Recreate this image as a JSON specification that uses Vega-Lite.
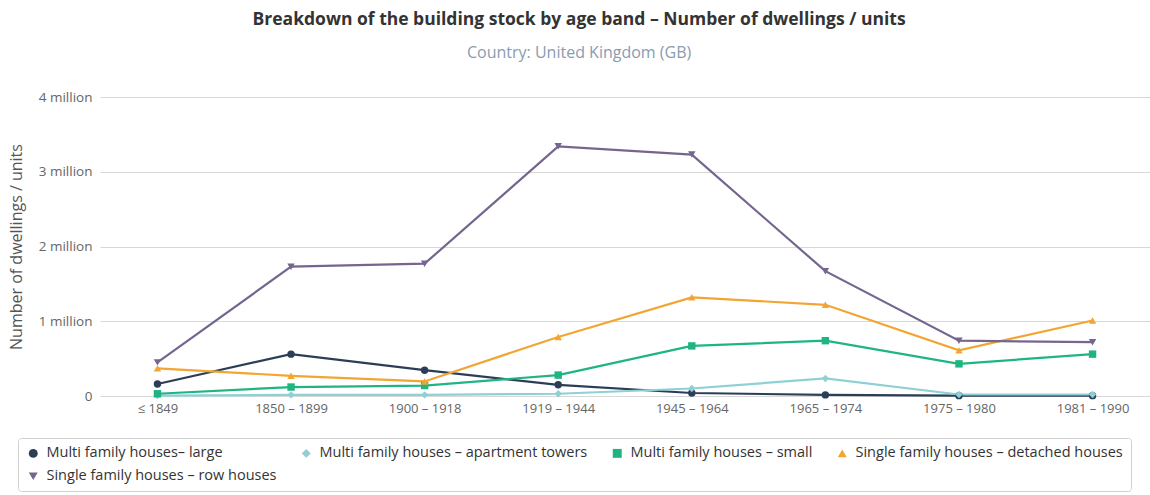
{
  "$schema": "https://vega.github.io/schema/vega-lite/v6.json",
  "width": 1050,
  "height": 299,
  "autosize": {"type": "none"},
  "padding": {"left": 100, "top": 97, "right": 0, "bottom": 99},
  "background": "white",
  "title": {
    "text": "Breakdown of the building stock by age band – Number of dwellings / units",
    "subtitle": "Country: United Kingdom (GB)",
    "anchor": "middle",
    "frame": "bounds",
    "dx": 0,
    "offset": 29,
    "font": "Open Sans",
    "fontSize": 17.5,
    "fontWeight": "bold",
    "color": "#333333",
    "subtitleFont": "Open Sans",
    "subtitleFontSize": 16,
    "subtitleColor": "#8a9bb0",
    "subtitlePadding": 17
  },
  "data": {
    "values": [
      {"band": "≤ 1849", "series": "Multi family houses– large", "v": 160000},
      {"band": "1850 – 1899", "series": "Multi family houses– large", "v": 560000},
      {"band": "1900 – 1918", "series": "Multi family houses– large", "v": 345000},
      {"band": "1919 – 1944", "series": "Multi family houses– large", "v": 150000},
      {"band": "1945 – 1964", "series": "Multi family houses– large", "v": 40000},
      {"band": "1965 – 1974", "series": "Multi family houses– large", "v": 15000},
      {"band": "1975 – 1980", "series": "Multi family houses– large", "v": 5000},
      {"band": "1981 – 1990", "series": "Multi family houses– large", "v": 5000},

      {"band": "≤ 1849", "series": "Multi family houses – apartment towers", "v": 5000},
      {"band": "1850 – 1899", "series": "Multi family houses – apartment towers", "v": 15000},
      {"band": "1900 – 1918", "series": "Multi family houses – apartment towers", "v": 15000},
      {"band": "1919 – 1944", "series": "Multi family houses – apartment towers", "v": 30000},
      {"band": "1945 – 1964", "series": "Multi family houses – apartment towers", "v": 100000},
      {"band": "1965 – 1974", "series": "Multi family houses – apartment towers", "v": 235000},
      {"band": "1975 – 1980", "series": "Multi family houses – apartment towers", "v": 20000},
      {"band": "1981 – 1990", "series": "Multi family houses – apartment towers", "v": 20000},

      {"band": "≤ 1849", "series": "Multi family houses – small", "v": 30000},
      {"band": "1850 – 1899", "series": "Multi family houses – small", "v": 120000},
      {"band": "1900 – 1918", "series": "Multi family houses – small", "v": 140000},
      {"band": "1919 – 1944", "series": "Multi family houses – small", "v": 280000},
      {"band": "1945 – 1964", "series": "Multi family houses – small", "v": 670000},
      {"band": "1965 – 1974", "series": "Multi family houses – small", "v": 740000},
      {"band": "1975 – 1980", "series": "Multi family houses – small", "v": 430000},
      {"band": "1981 – 1990", "series": "Multi family houses – small", "v": 560000},

      {"band": "≤ 1849", "series": "Single family houses – detached houses", "v": 370000},
      {"band": "1850 – 1899", "series": "Single family houses – detached houses", "v": 270000},
      {"band": "1900 – 1918", "series": "Single family houses – detached houses", "v": 195000},
      {"band": "1919 – 1944", "series": "Single family houses – detached houses", "v": 790000},
      {"band": "1945 – 1964", "series": "Single family houses – detached houses", "v": 1320000},
      {"band": "1965 – 1974", "series": "Single family houses – detached houses", "v": 1220000},
      {"band": "1975 – 1980", "series": "Single family houses – detached houses", "v": 610000},
      {"band": "1981 – 1990", "series": "Single family houses – detached houses", "v": 1010000},

      {"band": "≤ 1849", "series": "Single family houses – row houses", "v": 450000},
      {"band": "1850 – 1899", "series": "Single family houses – row houses", "v": 1730000},
      {"band": "1900 – 1918", "series": "Single family houses – row houses", "v": 1770000},
      {"band": "1919 – 1944", "series": "Single family houses – row houses", "v": 3340000},
      {"band": "1945 – 1964", "series": "Single family houses – row houses", "v": 3230000},
      {"band": "1965 – 1974", "series": "Single family houses – row houses", "v": 1670000},
      {"band": "1975 – 1980", "series": "Single family houses – row houses", "v": 740000},
      {"band": "1981 – 1990", "series": "Single family houses – row houses", "v": 720000}
    ]
  },
  "mark": {"type": "line", "strokeWidth": 2.2, "point": {"filled": true, "size": 55, "opacity": 1}},
  "encoding": {
    "x": {
      "field": "band",
      "type": "ordinal",
      "sort": ["≤ 1849", "1850 – 1899", "1900 – 1918", "1919 – 1944", "1945 – 1964", "1965 – 1974", "1975 – 1980", "1981 – 1990"],
      "scale": {"type": "point", "padding": 0.43},
      "axis": {
        "title": null,
        "labelAngle": 0,
        "domain": false,
        "ticks": false,
        "grid": false,
        "labelFont": "Open Sans",
        "labelFontSize": 13,
        "labelColor": "#666666",
        "labelPadding": 6
      }
    },
    "y": {
      "field": "v",
      "type": "quantitative",
      "scale": {"domain": [0, 4000000]},
      "axis": {
        "title": "Number of dwellings / units",
        "titleFont": "Open Sans",
        "titleFontSize": 16,
        "titleFontWeight": "normal",
        "titleColor": "#555555",
        "titlePadding": 14,
        "values": [0, 1000000, 2000000, 3000000, 4000000],
        "labelExpr": "datum.value == 0 ? '0' : (datum.value / 1000000) + ' million'",
        "labelFont": "Open Sans",
        "labelFontSize": 13.5,
        "labelColor": "#666666",
        "labelPadding": 8,
        "domain": false,
        "ticks": false,
        "gridColor": "#d8d8d8",
        "gridWidth": 1
      }
    },
    "color": {
      "field": "series",
      "type": "nominal",
      "sort": ["Multi family houses– large", "Multi family houses – apartment towers", "Multi family houses – small", "Single family houses – detached houses", "Single family houses – row houses"],
      "scale": {
        "domain": ["Multi family houses– large", "Multi family houses – apartment towers", "Multi family houses – small", "Single family houses – detached houses", "Single family houses – row houses"],
        "range": ["#2c3e56", "#8fd0d4", "#1fb583", "#f2a532", "#75658f"]
      },
      "legend": {
        "title": null,
        "orient": "none",
        "legendX": -82,
        "legendY": 341,
        "direction": "horizontal",
        "columns": 4,
        "columnPadding": 22,
        "rowPadding": 8,
        "padding": 8,
        "strokeColor": "#d0d0d0",
        "cornerRadius": 3,
        "fillColor": "white",
        "labelFont": "Open Sans",
        "labelFontSize": 14.5,
        "labelColor": "#333333",
        "labelLimit": 500,
        "symbolSize": 80,
        "symbolStrokeWidth": 0,
        "labelOffset": 6
      }
    },
    "shape": {
      "field": "series",
      "type": "nominal",
      "sort": ["Multi family houses– large", "Multi family houses – apartment towers", "Multi family houses – small", "Single family houses – detached houses", "Single family houses – row houses"],
      "scale": {
        "domain": ["Multi family houses– large", "Multi family houses – apartment towers", "Multi family houses – small", "Single family houses – detached houses", "Single family houses – row houses"],
        "range": ["circle", "diamond", "square", "triangle-up", "triangle-down"]
      },
      "legend": null
    }
  },
  "config": {"view": {"stroke": null}}
}
